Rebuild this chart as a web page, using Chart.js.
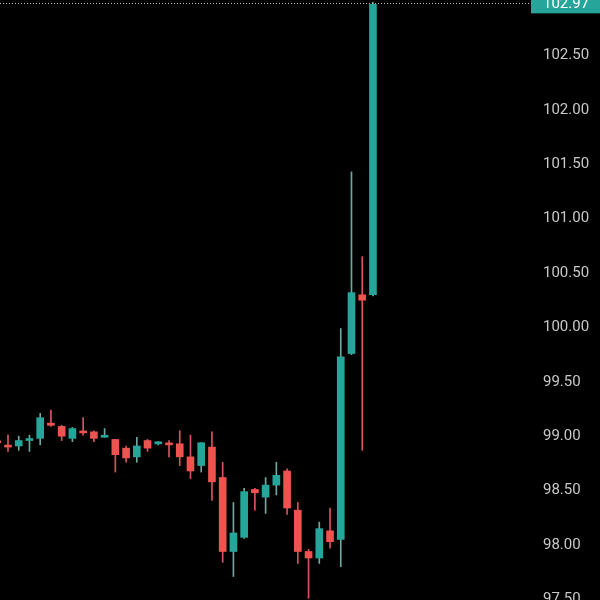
<!DOCTYPE html>
<html><head><meta charset="utf-8">
<script src="https://cdn.jsdelivr.net/npm/chart.js@4.4.1/dist/chart.umd.min.js"></script>
<style>html,body{margin:0;padding:0;background:#000;overflow:hidden}canvas{display:block}</style>
</head><body><canvas id="c" width="600" height="600"></canvas>
<script>
const candleIndex = [0,1,2,3,4,5,6,7,8,9,10,11,12,13,14,15,16,17,18,19,20,21,22,23,24,25,26,27,28,29,30,31,32,33,34,35];
const opens  = [98.95,98.91,98.91,98.96,98.98,99.12,99.09,98.98,99.04,99.04,98.99,98.97,98.89,98.81,98.96,98.93,98.93,98.93,98.81,98.73,98.90,98.62,97.94,98.07,98.51,98.44,98.55,98.68,98.32,97.94,97.88,98.13,98.05,99.76,100.30,100.30];
const highs  = [98.97,99.01,99.00,99.01,99.21,99.24,99.10,99.08,99.17,99.05,99.07,98.97,98.91,98.99,98.97,98.95,98.96,99.05,99.01,98.94,99.04,98.76,98.39,98.52,98.52,98.62,98.76,98.70,98.39,97.96,98.21,98.34,99.99,101.43,100.65,102.99];
const lows   = [98.93,98.86,98.87,98.86,98.92,99.09,98.96,98.95,99.01,98.95,98.99,98.67,98.76,98.76,98.86,98.92,98.81,98.73,98.61,98.67,98.41,97.84,97.71,98.06,98.32,98.29,98.46,98.28,97.83,97.51,97.83,97.97,97.80,99.75,98.87,100.29];
const closes = [98.94,98.90,98.96,98.97,99.17,99.10,99.00,99.07,99.03,98.98,99.00,98.83,98.80,98.91,98.89,98.94,98.92,98.81,98.68,98.94,98.58,97.94,98.11,98.49,98.48,98.55,98.64,98.34,97.94,97.88,98.15,98.03,99.73,100.32,100.25,102.97];
const priceTicks = [97.5,98.0,98.5,99.0,99.5,100.0,100.5,101.0,101.5,102.0,102.5];

const UP = '#26a69a', DOWN = '#ef5350';
const UP_WICK = '#6fa8a1', DOWN_WICK = '#d9535f';
const isUp = candleIndex.map(i => closes[i] >= opens[i]);

const priceLine = {
  id: 'priceLine',
  afterDraw(chart) {
    const {ctx, chartArea, scales} = chart;
    const last = closes[closes.length - 1];
    const y = scales.y.getPixelForValue(last);
    ctx.save();
    ctx.strokeStyle = '#a9bcb9';
    ctx.lineWidth = 1;
    ctx.setLineDash([1, 2]);
    ctx.beginPath();
    ctx.moveTo(chartArea.left, Math.round(y) - 0.5);
    ctx.lineTo(chartArea.right, Math.round(y) - 0.5);
    ctx.stroke();
    ctx.setLineDash([]);
    ctx.fillStyle = UP;
    ctx.fillRect(chartArea.right + 1, y - 10, 80, 19);
    ctx.fillStyle = '#ffffff';
    ctx.font = '15px Roboto';
    ctx.textBaseline = 'middle';
    ctx.textAlign = 'left';
    ctx.fillText(last.toFixed(2), chartArea.right + 13, y);
    ctx.restore();
  }
};

new Chart(document.getElementById('c'), {
  type: 'bar',
  data: {
    datasets: [
      {
        label: 'wick',
        data: candleIndex.map(i => ({x: i, y: [lows[i], highs[i]]})),
        backgroundColor: candleIndex.map(i => isUp[i] ? UP_WICK : DOWN_WICK),
        barThickness: 1,
        minBarLength: 1,
        grouped: false,
        order: 2
      },
      {
        label: 'body',
        data: candleIndex.map(i => ({x: i, y: [opens[i], closes[i]]})),
        backgroundColor: candleIndex.map(i => isUp[i] ? UP : DOWN),
        barThickness: 7,
        minBarLength: 2,
        grouped: false,
        order: 1
      }
    ]
  },
  options: {
    responsive: false,
    animation: false,
    layout: {padding: 0},
    plugins: {legend: {display: false}, tooltip: {enabled: false}},
    scales: {
      x: {
        type: 'linear', min: 0.255, max: 49.63, offset: false, display: false
      },
      y: {
        position: 'right',
        min: 97.494, max: 103.01,
        afterBuildTicks: s => { s.ticks = priceTicks.map(v => ({value: v})); },
        afterFit: s => { s.width = 70; s.paddingTop = 0; s.paddingBottom = 0; },
        grid: {display: false, drawTicks: false},
        border: {display: false},
        ticks: {
          color: '#c8c8c8',
          padding: 13,
          font: {family: 'Roboto', size: 15},
          callback: v => Number(v).toFixed(2)
        }
      }
    }
  },
  plugins: [priceLine]
});
</script>
</body></html>
